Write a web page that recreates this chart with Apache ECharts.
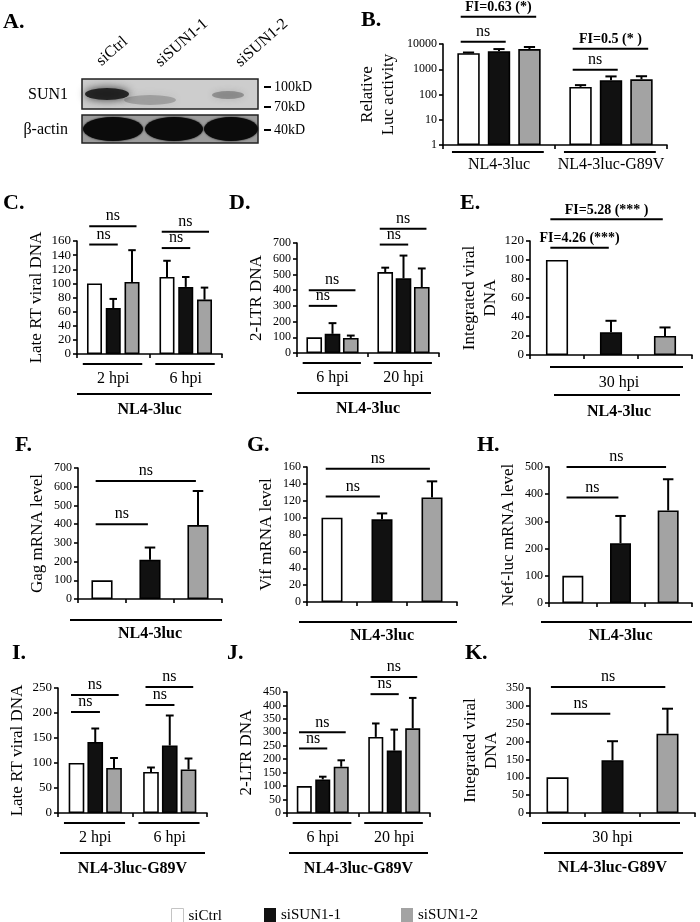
<!DOCTYPE html>
<html><head><meta charset="utf-8">
<script src="https://cdn.jsdelivr.net/npm/echarts@6/dist/echarts.min.js"></script>
<style>html,body{margin:0;padding:0;background:#fff}#c{width:700px;height:922px}</style>
</head><body><div id="c"></div>
<script>
// ---------- DATA ----------
const seriesNames = ['siCtrl', 'siSUN1-1', 'siSUN1-2'];
const virusLabels = ['NL4-3luc', 'NL4-3luc-G89V'];
const laneLabels = ['siCtrl', 'siSUN1-1', 'siSUN1-2'];
const blotRows = ['SUN1', 'β-actin'];
const markerLabels = ['100kD', '70kD', '40kD'];

// B: relative Luc activity (log)
const bCats = ['NL4-3luc', 'NL4-3luc-G89V'];
const bVals = [[4300, 200], [5200, 370], [6300, 400]];
const bErr  = [[300, 35], [1100, 150], [1300, 130]];
const bSig  = [[0, 0, 1, 12300, 'ns'], [0, 0, 2, 120000, 'FI=0.63 (*)'], [1, 0, 1, 950, 'ns'], [1, 0, 2, 6450, 'FI=0.5 (* )']];
const bTicks = [1, 10, 100, 1000, 10000];

// C: Late RT viral DNA (NL4-3luc)
const cCats = ['2 hpi', '6 hpi'];
const cVals = [[100, 109], [65, 95], [102, 77]];
const cErr  = [[0, 23], [13, 14], [45, 17]];
const cSig  = [[0, 0, 1, 155, 'ns'], [0, 0, 2, 181, 'ns'], [1, 0, 1, 150, 'ns'], [1, 0, 2, 173, 'ns']];

// D: 2-LTR DNA (NL4-3luc)
const dCats = ['6 hpi', '20 hpi'];
const dVals = [[100, 515], [122, 475], [96, 420]];
const dErr  = [[0, 28], [68, 145], [15, 118]];
const dSig  = [[0, 0, 1, 300, 'ns'], [0, 0, 2, 400, 'ns'], [1, 0, 1, 690, 'ns'], [1, 0, 2, 790, 'ns']];

// E: Integrated viral DNA (NL4-3luc, 30 hpi)
const eVals = [100, 24, 20];
const eErr  = [0, 12, 9];
const eSig  = [[0, 1, 113, 'FI=4.26 (***)'], [0, 2, 143, 'FI=5.28 (*** )']];
const eHpi  = '30 hpi';

// F: Gag mRNA level
const fVals = [100, 210, 395];
const fErr  = [0, 65, 182];
const fSig  = [[0, 1, 400, 'ns'], [0, 2, 630, 'ns']];

// G: Vif mRNA level
const gVals = [100, 98, 124];
const gErr  = [0, 7, 19];
const gSig  = [[0, 1, 125, 'ns'], [0, 2, 158, 'ns']];

// H: Nef-luc mRNA level
const hVals = [100, 220, 340];
const hErr  = [0, 100, 115];
const hSig  = [[0, 1, 388, 'ns'], [0, 2, 500, 'ns']];

// I: Late RT viral DNA (G89V)
const iCats = ['2 hpi', '6 hpi'];
const iVals = [[100, 82], [142, 135], [90, 87]];
const iErr  = [[0, 9], [27, 60], [20, 22]];
const iSig  = [[0, 0, 1, 202, 'ns'], [0, 0, 2, 236, 'ns'], [1, 0, 1, 216, 'ns'], [1, 0, 2, 252, 'ns']];

// J: 2-LTR DNA (G89V)
const jCats = ['6 hpi', '20 hpi'];
const jVals = [[100, 283], [125, 232], [172, 315]];
const jErr  = [[0, 50], [10, 78], [24, 113]];
const jSig  = [[0, 0, 1, 240, 'ns'], [0, 0, 2, 300, 'ns'], [1, 0, 1, 442, 'ns'], [1, 0, 2, 506, 'ns']];

// K: Integrated viral DNA (G89V, 30 hpi)
const kVals = [100, 148, 222];
const kErr  = [0, 53, 70];
const kSig  = [[0, 1, 278, 'ns'], [0, 2, 353, 'ns']];
const kHpi  = '30 hpi';

// ---------- STYLE / LAYOUT ----------
const FONT = "'Liberation Serif', 'Times New Roman', serif";
const colors = ['#ffffff', '#111111', '#a3a3a3'];

const panels = [
  {rect:[443,44,224,101], cats:bCats, vals:bVals, errs:bErr, sig:bSig, single:false, barFrac:0.2, gapFrac:0.36,
   y:{log:true, min:1, max:10000, name:'Relative\nLuc activity', gap:44, lab:12},
   deco:{cats:true, ul:7, lab:20}},
  {rect:[77,241,145,113], cats:cCats, vals:cVals, errs:cErr, sig:cSig, single:false, barFrac:0.207, gapFrac:0.25,
   y:{min:0, max:160, interval:20, name:'Late RT viral DNA', gap:30, lab:13},
   deco:{cats:true, ul:10, lab:25, full:[0,10], fullY:40, group:virusLabels[0], groupY:56}},
  {rect:[297,243,142,110], cats:dCats, vals:dVals, errs:dErr, sig:dSig, single:false, barFrac:0.22, gapFrac:0.17,
   y:{min:0, max:700, interval:100, name:'2-LTR DNA', gap:30, lab:12},
   deco:{cats:true, ul:10, lab:25, full:[0,8], fullY:40, group:virusLabels[0], groupY:56}},
  {rect:[530,241,162,114], cats:['a','b','c'], vals:eVals, errs:eErr, sig:eSig, single:true, barFrac:0.41,
   y:{min:0, max:120, interval:20, name:'Integrated viral\nDNA', gap:22, lab:13},
   deco:{sub:eHpi, subLine:[20,9], ul:12, lab:28, full:[24,12], fullY:40, group:virusLabels[0], groupY:57, dx:8}},
  {rect:[78,468,144,131], cats:['a','b','c'], vals:fVals, errs:fErr, sig:fSig, single:true, barFrac:0.44,
   y:{min:0, max:700, interval:100, name:'Gag mRNA level', gap:30, lab:12},
   deco:{full:[-8,0], fullY:21, group:virusLabels[0], groupY:35}},
  {rect:[307,467,150,135], cats:['a','b','c'], vals:gVals, errs:gErr, sig:gSig, single:true, barFrac:0.42,
   y:{min:0, max:160, interval:20, name:'Vif mRNA level', gap:30, lab:12},
   deco:{full:[-8,0], fullY:20, group:virusLabels[0], groupY:34}},
  {rect:[549,467,143,136], cats:['a','b','c'], vals:hVals, errs:hErr, sig:hSig, single:true, barFrac:0.44,
   y:{min:0, max:500, interval:100, name:'Nef-luc mRNA level', gap:30, lab:12},
   deco:{full:[-8,0], fullY:19, group:virusLabels[0], groupY:33}},
  {rect:[58,688,149,125], cats:iCats, vals:iVals, errs:iErr, sig:iSig, single:false, barFrac:0.21, gapFrac:0.2,
   y:{min:0, max:250, interval:50, name:'Late RT viral DNA', gap:30, lab:13},
   deco:{cats:true, ul:10, lab:25, full:[2,2], fullY:40, group:virusLabels[1], groupY:56}},
  {rect:[287,692,143,121], cats:jCats, vals:jVals, errs:jErr, sig:jSig, single:false, barFrac:0.21, gapFrac:0.23,
   y:{min:0, max:450, interval:50, name:'2-LTR DNA', gap:30, lab:12},
   deco:{cats:true, ul:10, lab:25, full:[2,2], fullY:40, group:virusLabels[1], groupY:56}},
  {rect:[530,688,165,125], cats:['a','b','c'], vals:kVals, errs:kErr, sig:kSig, single:true, barFrac:0.4,
   y:{min:0, max:350, interval:50, name:'Integrated viral\nDNA', gap:24, lab:12},
   deco:{sub:kHpi, subLine:[12,15], ul:10, lab:25, full:[14,12], fullY:40, group:virusLabels[1], groupY:55}}
];

function errRender(p){ return function(params, api){
  const k = api.value(0), v = api.value(1), e = api.value(2), si = api.value(3);
  if (!e) return null;
  const band = api.size([1, 0])[0];
  const bw = band * p.barFrac;
  const off = p.single ? 0 : (si - 1) * bw * (1 + p.gapFrac);
  const a = api.coord([k, v]), b = api.coord([k, v + e]);
  const x = a[0] + off, cap = bw * 0.25;
  return {type:'group', children:[
    {type:'line', shape:{x1:x, y1:a[1], x2:x, y2:b[1]}, style:{stroke:'#000', lineWidth:2}},
    {type:'line', shape:{x1:x-cap, y1:b[1], x2:x+cap, y2:b[1]}, style:{stroke:'#000', lineWidth:2}}
  ]};
};}

function sigRender(p){ return function(params, api){
  const s = p.sig[params.dataIndex];
  const band = api.size([1, 0])[0];
  const bw = band * p.barFrac;
  let x1, x2, y, text;
  if (p.single) {
    const a = api.coord([s[0], s[2]]), b = api.coord([s[1], s[2]]);
    x1 = a[0] - 0.3 * bw; x2 = b[0] - 0.1 * bw; y = a[1]; text = s[3];
  } else {
    const c = api.coord([s[0], s[3]]);
    const step = bw * (1 + p.gapFrac);
    x1 = c[0] + (s[1] - 1) * step - 0.35 * bw; x2 = c[0] + (s[2] - 1) * step + 0.3 * bw; y = c[1]; text = s[4];
  }
  const bold = text !== 'ns';
  return {type:'group', children:[
    {type:'line', shape:{x1, y1:y, x2, y2:y}, style:{stroke:'#000', lineWidth:2}},
    {type:'text', x:(x1 + x2) / 2, y: y - 2, style:{text, align:'center', verticalAlign:'bottom',
      fontFamily:FONT, fontSize: bold ? 14 : 16, fontWeight: bold ? 'bold' : 'normal', fill:'#000'}}
  ]};
};}

function decoRender(p){ return function(params, api){
  const cs = params.coordSys, base = cs.y + cs.height, d = p.deco, ch = [];
  const L = (x1, x2, y) => ch.push({type:'line', shape:{x1, y1:y, x2, y2:y}, style:{stroke:'#000', lineWidth:2}});
  const T = (t, x, y, bold) => ch.push({type:'text', x, y, style:{text:t, align:'center', verticalAlign:'middle',
      fontFamily:FONT, fontSize:16, fontWeight: bold ? 'bold' : 'normal', fill:'#000'}});
  const dx = d.dx || 0;
  if (d.cats) {
    const n = p.cats.length, band = cs.width / n;
    p.cats.forEach((c, k) => { const cx = cs.x + band * (k + 0.5);
      L(cx - 0.42 * band, cx + 0.40 * band, base + d.ul); T(c, cx, base + d.lab, false); });
  }
  if (d.sub) { L(cs.x + d.subLine[0], cs.x + cs.width - d.subLine[1], base + d.ul); T(d.sub, cs.x + cs.width / 2 + dx, base + d.lab, false); }
  if (d.full) L(cs.x + d.full[0], cs.x + cs.width - d.full[1], base + d.fullY);
  if (d.group) T(d.group, cs.x + cs.width / 2 + dx, base + d.groupY, true);
  return {type:'group', children:ch};
};}

const grid = [], xAxis = [], yAxis = [], series = [];
const axisLine = {show:true, lineStyle:{color:'#000', width:1.6}};
panels.forEach((p, gi) => {
  grid.push({left:p.rect[0], top:p.rect[1], width:p.rect[2], height:p.rect[3]});
  xAxis.push({gridIndex:gi, type:'category', data:p.cats, axisLine,
    axisTick:{show:true, alignWithLabel:false, length:4, lineStyle:{color:'#000', width:1.6}}, axisLabel:{show:false}});
  const y = {gridIndex:gi, min:p.y.min, max:p.y.max, axisLine,
    axisTick:{show:true, length:4, lineStyle:{color:'#000', width:1.6}}, splitLine:{show:false},
    axisLabel:{fontFamily:FONT, fontSize:p.y.lab, color:'#000', margin:6, formatter: v => String(Math.round(v))},
    name:p.y.name, nameLocation:'middle', nameGap:p.y.gap,
    nameTextStyle:{fontFamily:FONT, fontSize:17, color:'#000', lineHeight:21}};
  if (p.y.log) { y.type = 'log'; y.logBase = 10; } else { y.type = 'value'; y.interval = p.y.interval; }
  yAxis.push(y);
  const bwStr = (p.barFrac * 100) + '%';
  const errData = [];
  seriesNames.forEach((nm, i) => {
    let data;
    if (p.single) { data = p.cats.map((c, k) => k === i ? p.vals[i] : '-'); errData.push([i, p.vals[i], p.errs[i], i]); }
    else { data = p.vals[i]; p.vals[i].forEach((v, k) => errData.push([k, v, p.errs[i][k], i])); }
    series.push({type:'bar', name:nm, xAxisIndex:gi, yAxisIndex:gi, data, barWidth:bwStr,
      barGap: p.single ? '-100%' : (p.gapFrac * 100) + '%',
      itemStyle:{color:colors[i], borderColor:'#000', borderWidth:1.6}, silent:true});
  });
  series.push({type:'custom', xAxisIndex:gi, yAxisIndex:gi, data:errData, encode:{x:0, y:1}, z:5, silent:true, renderItem:errRender(p)});
  series.push({type:'custom', xAxisIndex:gi, yAxisIndex:gi, z:5, silent:true, encode:{x:0, y:1},
    data:p.sig.map(s => p.single ? [s[0], s[2]] : [s[0], s[3]]), renderItem:sigRender(p)});
  series.push({type:'custom', xAxisIndex:gi, yAxisIndex:gi, z:5, silent:true, encode:{x:0, y:1},
    data:[[0, p.y.log ? 1 : 0]], renderItem:decoRender(p)});
});

// panel letters and blot (panel A)
const letters = [['A.',3,22],['B.',361,20],['C.',3,203],['D.',229,203],['E.',460,203],['F.',15,445],['G.',247,445],['H.',477,445],['I.',12,653],['J.',227,653],['K.',465,653]];
const graphic = letters.map(l => ({type:'text', x:l[1], y:l[2], style:{text:l[0], fontFamily:FONT, fontSize:22, fontWeight:'bold', fill:'#000', align:'left', verticalAlign:'middle'}}));
const ell = (cx, cy, rx, ry, fill, blur) => ({type:'circle', x:cx, y:cy, scaleX:rx/10, scaleY:ry/10, shape:{cx:0, cy:0, r:10},
  style:{fill, shadowBlur:blur||0, shadowColor:fill}});
graphic.push(
  {type:'rect', shape:{x:82, y:79, width:176, height:30}, style:{fill:'#cdcdcd', stroke:'#222', lineWidth:1.5}},
  ell(150, 100, 26, 5, 'rgba(90,90,90,0.35)', 8),
  ell(107, 94, 22, 6, 'rgba(25,25,25,0.9)', 8),
  ell(228, 95, 16, 4, 'rgba(80,80,80,0.45)', 6),
  {type:'rect', shape:{x:82, y:115, width:176, height:28}, style:{fill:'#9c9c9c', stroke:'#222', lineWidth:1.5}},
  ell(113, 129, 30, 12, '#0b0b0b', 2),
  ell(174, 129, 29, 12, '#0b0b0b', 2),
  ell(231, 129, 27, 12, '#0b0b0b', 2)
);
[[104,69],[163,70],[243,70]].forEach((pos, i) => graphic.push({type:'text', x:pos[0], y:pos[1], rotation:0.72,
  style:{text:laneLabels[i], fontFamily:FONT, fontSize:16, fill:'#000', align:'left', verticalAlign:'bottom'}}));
[[68,95],[68,130]].forEach((pos, i) => graphic.push({type:'text', x:pos[0], y:pos[1],
  style:{text:blotRows[i], fontFamily:FONT, fontSize:16, fill:'#000', align:'right', verticalAlign:'middle'}}));
[87, 107, 130].forEach((yy, i) => {
  graphic.push({type:'line', shape:{x1:264, y1:yy, x2:271, y2:yy}, style:{stroke:'#000', lineWidth:2}});
  graphic.push({type:'text', x:274, y:yy, style:{text:markerLabels[i], fontFamily:FONT, fontSize:14, fill:'#000', align:'left', verticalAlign:'middle'}});
});

const legendItemStyles = [{color:'#fff', borderColor:'#c4c4c4', borderWidth:1}, {color:'#111', borderWidth:0}, {color:'#a3a3a3', borderWidth:0}];
const legend = seriesNames.map((n, i) => ({data:[{name:n, icon:'rect', itemStyle:legendItemStyles[i]}], left:[166, 259, 396][i], top:903,
  itemWidth:12, itemHeight:15, selectedMode:false, textStyle:{fontFamily:FONT, fontSize:15, color:'#000'}}));

const chart = echarts.init(document.getElementById('c'), null, {renderer:'canvas'});
chart.setOption({animation:false, backgroundColor:'#fff', grid, xAxis, yAxis, series, graphic, legend});
</script></body></html>
